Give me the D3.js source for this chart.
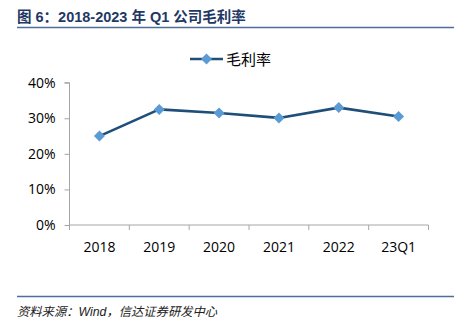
<!DOCTYPE html>
<html>
<head>
<meta charset="utf-8">
<script src="https://cdn.jsdelivr.net/npm/d3@7"></script>
<style>
  html, body { margin: 0; padding: 0; background: #fff; }
  svg { display: block; }
</style>
</head>
<body>
<svg id="chart" width="456" height="331"></svg>
<script>
// Gross margin by year
const categories = ["2018", "2019", "2020", "2021", "2022", "23Q1"];
const grossMargin = [0.250, 0.325, 0.315, 0.301, 0.330, 0.305];
const yTicks = [0, 0.1, 0.2, 0.3, 0.4];
const seriesName = "毛利率";
const titleText = "图 6：2018-2023 年 Q1 公司毛利率";
const sourceText = "资料来源：Wind，信达证券研发中心";

const svg = d3.select("#chart");
const plot = { left: 69.5, right: 428.5, top: 82.7, bottom: 225 };

const x = d3.scaleBand().domain(categories).range([plot.left, plot.right]);
const y = d3.scaleLinear().domain([0, 0.4]).range([plot.bottom, plot.top]);

// Title and rule
svg.append("text")
  .attr("x", 17).attr("y", 22)
  .attr("font-family", "'Liberation Sans', 'Noto Sans CJK SC', sans-serif")
  .attr("font-weight", "bold").attr("font-size", 14.5)
  .attr("fill", "#1f3864")
  .text(titleText);
svg.append("line")
  .attr("x1", 17).attr("x2", 454).attr("y1", 27.5).attr("y2", 27.5)
  .attr("stroke", "#4f6d9a").attr("stroke-width", 1.3);

// Footer rule and source
svg.append("line")
  .attr("x1", 17).attr("x2", 454).attr("y1", 296.5).attr("y2", 296.5)
  .attr("stroke", "#4f6d9a").attr("stroke-width", 1.3);
svg.append("text")
  .attr("x", 17).attr("y", 316)
  .attr("font-family", "'Liberation Sans', 'Noto Sans CJK SC', sans-serif")
  .attr("font-style", "italic").attr("font-size", 12.3)
  .attr("fill", "#222")
  .text(sourceText);

const fontAxis = "'Open Sans', 'Liberation Sans', sans-serif";

// Y axis
const yAxis = svg.append("g")
  .attr("transform", `translate(${plot.left},0)`)
  .call(d3.axisLeft(y).tickValues(yTicks).tickFormat(d3.format(".0%")).tickSize(5).tickPadding(9));
yAxis.select(".domain").attr("stroke", "#a6a6a6").attr("d", `M-5,${plot.top}H0V${plot.bottom}`);
yAxis.selectAll(".tick line").attr("stroke", "#a6a6a6");
yAxis.selectAll(".tick text")
  .attr("font-family", fontAxis).attr("font-size", 14).attr("fill", "#000");

// X axis
const xAxis = svg.append("g")
  .attr("transform", `translate(0,${plot.bottom})`)
  .call(d3.axisBottom(x).tickSize(0).tickPadding(17));
xAxis.select(".domain").attr("stroke", "#a6a6a6").attr("d", `M${plot.left},0H${plot.right}`);
xAxis.selectAll(".tick text")
  .attr("font-family", fontAxis).attr("font-size", 14).attr("fill", "#000");
// Category boundary ticks
const bounds = categories.map(c => x(c)).concat([plot.right]);
svg.append("g").selectAll("line").data(bounds).join("line")
  .attr("x1", d => d).attr("x2", d => d)
  .attr("y1", plot.bottom).attr("y2", plot.bottom + 5)
  .attr("stroke", "#a6a6a6");

// Line series
const cx = (d, i) => x(categories[i]) + x.bandwidth() / 2;
svg.append("path")
  .datum(grossMargin)
  .attr("fill", "none").attr("stroke", "#1f4e79").attr("stroke-width", 2.6)
  .attr("stroke-linejoin", "round")
  .attr("d", d3.line().x(cx).y(d => y(d)));

// Square diamond marker (equal width and height)
const r = 5.5;
const diamond = `M0,${-r}L${r},0L0,${r}L${-r},0Z`;
svg.append("g").selectAll("path").data(grossMargin).join("path")
  .attr("transform", (d, i) => `translate(${cx(d, i)},${y(d)})`)
  .attr("d", diamond)
  .attr("fill", "#5b9bd5");

// Legend
const lg = svg.append("g").attr("transform", "translate(0,59)");
lg.append("line").attr("x1", 190).attr("x2", 223).attr("y1", 0).attr("y2", 0)
  .attr("stroke", "#1f4e79").attr("stroke-width", 2.6);
lg.append("path").attr("transform", "translate(206.5,0)").attr("d", diamond).attr("fill", "#5b9bd5");
lg.append("text").attr("x", 226).attr("y", 5.5)
  .attr("font-family", "'Noto Sans CJK SC', sans-serif").attr("font-size", 15)
  .attr("fill", "#000").text(seriesName);
</script>
</body>
</html>
